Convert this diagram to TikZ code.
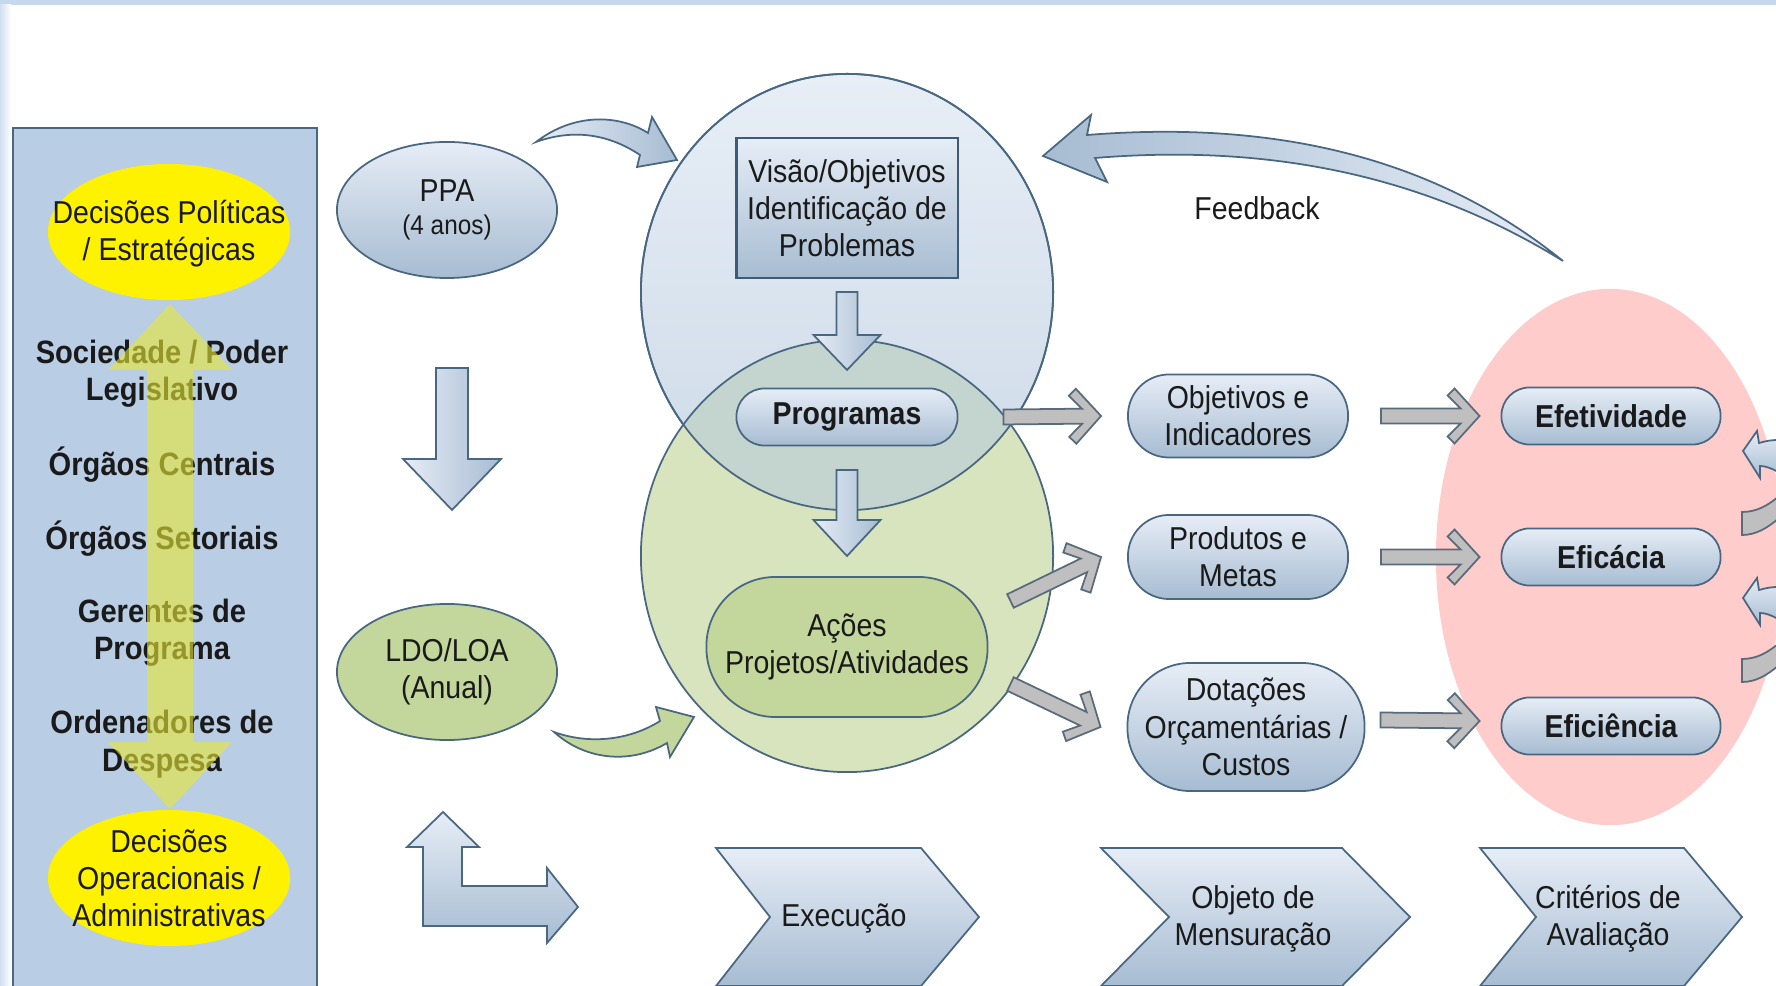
\documentclass[tikz,border=0pt]{standalone}
\usepackage{fontspec}
\setmainfont{Liberation Sans}[FakeStretch=0.9]
\usetikzlibrary{shapes.geometric,calc}

\definecolor{bluetop}{HTML}{E6EDF6}
\definecolor{bluebot}{HTML}{A7BCD2}
\definecolor{edgeblue}{HTML}{4A6781}
\definecolor{edgedark}{HTML}{3D5A78}
\definecolor{panelblue}{HTML}{B9CDE5}
\definecolor{arrowyellow}{HTML}{E9E833}
\definecolor{leafgreen}{HTML}{C3D69B}
\definecolor{palegreen}{HTML}{D7E4BD}
\definecolor{overlapcol}{HTML}{C4D4CE}
\definecolor{pinkzone}{HTML}{FFCCCC}
\definecolor{arrowgray}{HTML}{BFBFBF}
\definecolor{edgegray}{HTML}{5A6B7B}
\definecolor{topband}{HTML}{C5D8EE}
\definecolor{circletop}{HTML}{E7EEF6}
\definecolor{circlebot}{HTML}{CDDAE8}
\definecolor{textgray}{HTML}{1A1A1A}

% block arrow pointing down: x, top, base of head, apex, shaft half, head half
\newcommand{\blockdown}[6]{%
  \draw[bluearrow, left color=bluetop, right color=bluebot]
    (#1-#5,#2) -- (#1+#5,#2) -- (#1+#5,#3) -- (#1+#6,#3) -- (#1,#4)
    -- (#1-#6,#3) -- (#1-#5,#3) -- cycle;}

% gray chevron arrow from #1 to #2
\newcommand{\grayarrow}[2]{%
  \draw[grayarr] let \p1=#1, \p2=#2,
    \n1={atan2(\y2-\y1,\x2-\x1)}, \n2={veclen(\x2-\x1,\y2-\y1)} in
    [shift={(\p1)}, rotate=\n1]
    (0pt,2.13pt) -- ({\n2*1pt-5.41pt},2.13pt) -- ({\n2*1pt-9.1pt},5.83pt)
    -- ({\n2*1pt-7.11pt},7.82pt) -- ({\n2*1pt},0pt) -- ({\n2*1pt-7.11pt},-7.82pt)
    -- ({\n2*1pt-9.1pt},-5.83pt) -- ({\n2*1pt-5.41pt},-2.13pt) -- (0pt,-2.13pt) -- cycle;}

\begin{document}
\begin{tikzpicture}[x=0.01cm, y=-0.01cm,
    every node/.style={font=\fontsize{9}{10.6}\selectfont, text=textgray, align=center, inner sep=0pt},
    decision/.style={ellipse, fill=yellow, minimum width=2.42cm, minimum height=1.36cm},
    actor/.style={font=\fontsize{9.2}{10.6}\selectfont\bfseries},
    period/.style={ellipse, draw=edgeblue, line width=0.5pt, minimum width=2.20cm, minimum height=1.36cm},
    pill/.style={rectangle, rounded corners=#1, draw=edgeblue, line width=0.5pt, top color=bluetop, bottom color=bluebot},
    bluearrow/.style={draw=edgeblue, line width=0.5pt},
    grayarr/.style={fill=arrowgray, draw=edgegray, line width=0.5pt}
]

% Frame
\path[use as bounding box] (0,0) rectangle (1776,986);
\clip (0,0) rectangle (1776,986);
\fill[topband] (0,0) rectangle (1776,5);
\shade[left color=topband!80, right color=white] (0,5) rectangle (11,986);

% Left panel
\node[draw=edgeblue, fill=panelblue, line width=0.6pt, minimum width=3.04cm, minimum height=8.75cm, anchor=north west] (panel) at (12,127) {};
\node[decision] (politica) at (169,232) {};
\node (politica text) at ([yshift=-0.02cm]politica.center) {Decisões Políticas\\/ Estratégicas};
\node[decision] (operacional) at (169,878) {};
\node (operacional text) at (operacional) {Decisões\\Operacionais /\\Administrativas};
\node[actor] (sociedade) at (162,374) {Sociedade / Poder\\Legislativo};
\node[actor] (centrais) at (162,465) {Órgãos Centrais};
\node[actor] (setoriais) at (162,539) {Órgãos Setoriais};
\node[actor] (gerentes) at (162,633) {Gerentes de\\Programa};
\node[actor] (ordenadores) at (162,744) {Ordenadores de\\Despesa};
\fill[arrowyellow, fill opacity=0.6] (170,304) -- (232,370) -- (193,370) -- (193,742) -- (232,742)
  -- (170,809) -- (108,742) -- (147,742) -- (147,370) -- (108,370) -- cycle;

% Plans
\node[period, top color=bluetop, bottom color=bluebot] (ppa) at (447,210) {PPA\\[-1pt]{\fontsize{7.7}{9}\selectfont(4 anos)}};
\node[period, fill=leafgreen] (ldo) at (447,672) {LDO/LOA\\(Anual)};
\blockdown{452}{368}{459}{510}{16}{49}
\draw[bluearrow, top color=bluetop, bottom color=bluebot] (443,812) -- (479,847) -- (462,847) -- (462,886)
  -- (547,886) -- (547,868) -- (578,907) -- (547,943) -- (547,926) -- (423,926) -- (423,847) -- (407,847) -- cycle;

% Evaluation zone
\node[ellipse, fill=pinkzone, minimum width=3.48cm, minimum height=5.36cm] (zone) at (1610,557) {};

% Circles
\node[ellipse, draw=edgeblue, line width=0.5pt, top color=circletop, bottom color=circlebot,
  minimum width=4.12cm, minimum height=4.36cm] (plancircle) at (847,292) {};
\node[ellipse, draw=edgeblue, line width=0.5pt, fill=palegreen, minimum width=4.12cm, minimum height=4.32cm,
  path picture={\fill[overlapcol] (plancircle.center) ellipse [x radius=2.06cm, y radius=2.18cm];}] (actcircle) at (847,556) {};
\draw[edgeblue, line width=0.5pt] (plancircle.center) ellipse [x radius=2.06cm, y radius=2.18cm];

\node[rectangle, draw=edgedark, line width=0.6pt, top color=bluetop, bottom color=bluebot,
  minimum width=2.21cm, minimum height=1.40cm] (visao) at (847,208) {Visão/Objetivos\\Identificação de\\Problemas};
\node[pill=0.28cm, minimum width=2.21cm, minimum height=0.57cm, font=\fontsize{9}{10.6}\selectfont\bfseries] (prog) at (847,417) {Programas};
\node[pill=0.69cm, top color=leafgreen, bottom color=leafgreen, minimum width=2.81cm, minimum height=1.40cm] (acoes) at (847,647) {Ações\\Projetos/Atividades};
\blockdown{847}{292}{335}{370}{10.5}{33.5}
\blockdown{847}{470}{520}{556}{10.5}{33.5}

% Curved arrows
\draw[bluearrow, left color=bluetop, right color=bluebot] (536,142) .. controls (575,112) and (620,115) .. (648,133)
  -- (652,117) -- (677,160) -- (637,167) -- (640,155) .. controls (610,135) and (575,128) .. (536,142) -- cycle;
\draw[bluearrow, fill=leafgreen] (554,732) .. controls (590,745) and (630,740) .. (660,721)
  -- (656,707) -- (694,717) -- (670,757) -- (667,743) .. controls (630,765) and (585,760) .. (554,732) -- cycle;
\draw[bluearrow, left color=bluebot, right color=bluetop] (1563,261) .. controls (1450,170) and (1300,118) .. (1087,135)
  -- (1091,115) -- (1043,156) -- (1107,182) -- (1095,158) .. controls (1290,142) and (1440,185) .. (1563,261) -- cycle;
\node (feedback) at (1257,208) {Feedback};

% Measures
\node[pill=0.41cm, minimum width=2.20cm, minimum height=0.83cm] (obj) at (1238,416) {Objetivos e\\Indicadores};
\node[pill=0.41cm, minimum width=2.20cm, minimum height=0.84cm] (prod) at (1238,557) {Produtos e\\Metas};
\node[pill=0.63cm, minimum width=2.37cm, minimum height=1.28cm] (dot) at (1246,727) {Dotações\\Orçamentárias /\\Custos};

% Criteria
\node[pill=0.28cm, minimum width=2.19cm, minimum height=0.57cm, font=\fontsize{9}{10.6}\selectfont\bfseries] (efet) at (1611,416) {Efetividade};
\node[pill=0.28cm, minimum width=2.19cm, minimum height=0.57cm, font=\fontsize{9}{10.6}\selectfont\bfseries] (efic) at (1611,557) {Eficácia};
\node[pill=0.28cm, minimum width=2.19cm, minimum height=0.57cm, font=\fontsize{9}{10.6}\selectfont\bfseries] (efin) at (1611,726) {Eficiência};

% Edges
\grayarrow{([xshift=0.45cm]prog.east)}{([xshift=-0.26cm]obj.west)}
\grayarrow{([shift={(0.22cm,0.46cm)}]acoes.east)}{([xshift=-0.26cm]prod.west)}
\grayarrow{([shift={(0.22cm,-0.37cm)}]acoes.east)}{([xshift=-0.26cm]dot.west)}
\grayarrow{([xshift=0.32cm]obj.east)}{([xshift=-0.21cm]efet.west)}
\grayarrow{([xshift=0.32cm]prod.east)}{([xshift=-0.21cm]efic.west)}
\grayarrow{([shift={(0.15cm,0.07cm)}]dot.east)}{([shift={(-0.21cm,0.05cm)}]efin.west)}

% Arrows leaving the frame
\foreach \dy in {0,147} {
  \draw[bluearrow, top color=bluetop, bottom color=bluebot] (1743,451+\dy) -- (1757,431+\dy) -- (1759,443+\dy)
    .. controls (1766,441+\dy) and (1771,440+\dy) .. (1778,440+\dy) -- (1778,472+\dy)
    .. controls (1771,468+\dy) and (1765,466+\dy) .. (1760,466+\dy) -- (1760,478+\dy) -- cycle;
  \draw[grayarr] (1742,512+\dy) .. controls (1756,512+\dy) and (1767,506+\dy) .. (1778,497+\dy) -- (1778,519+\dy)
    .. controls (1767,528+\dy) and (1756,535+\dy) .. (1742,535+\dy) -- cycle;
}

% Steps
\draw[bluearrow, top color=bluetop, bottom color=bluebot] (716,848) -- (921,848) -- (979,917) -- (921,986) -- (716,986) -- (770,917) -- cycle;
\draw[bluearrow, top color=bluetop, bottom color=bluebot] (1101,848) -- (1342,848) -- (1410,917) -- (1342,986) -- (1101,986) -- (1169,917) -- cycle;
\draw[bluearrow, top color=bluetop, bottom color=bluebot] (1480,848) -- (1684,848) -- (1742,917) -- (1684,986) -- (1480,986) -- (1536,917) -- cycle;
\node (execucao) at (844,919) {Execução};
\node (objeto) at (1253,919) {Objeto de\\Mensuração};
\node (criterios) at (1608,919) {Critérios de\\Avaliação};

\end{tikzpicture}
\end{document}
